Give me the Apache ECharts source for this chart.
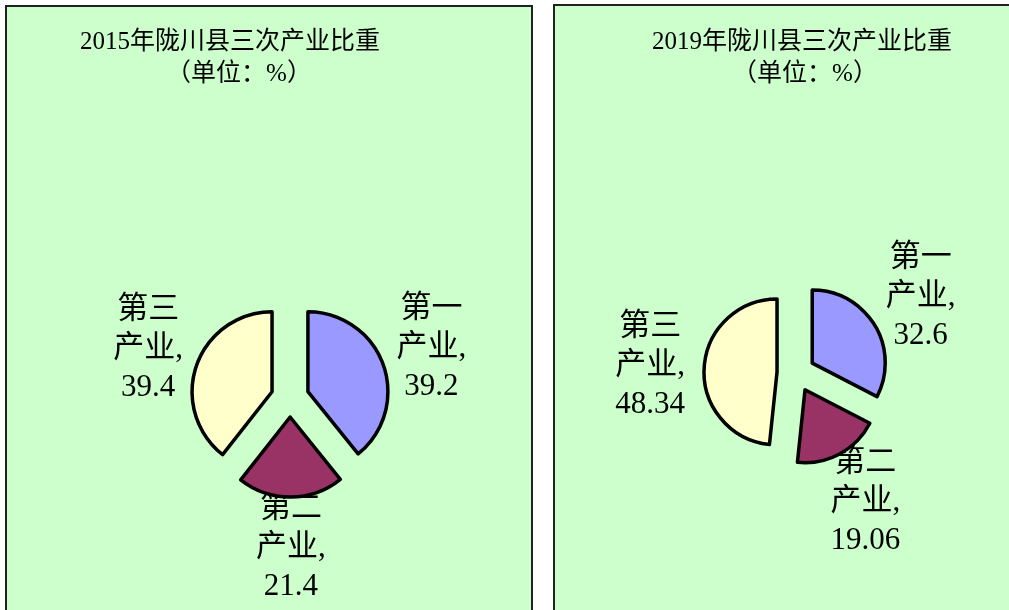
<!DOCTYPE html>
<html>
<head>
<meta charset="utf-8">
<script src="https://cdn.jsdelivr.net/npm/echarts@6/dist/echarts.min.js"></script>
<style>
  html, body { margin: 0; padding: 0; background: #fff; overflow: hidden; }
  .panel {
    position: absolute;
    background: #ccffcc;
    border: 2px solid #222;
  }
  #left { left: 5px; top: 5px; width: 524px; height: 620px; }
  #right { left: 553px; top: 4px; width: 470px; height: 620px; }
  .chart { width: 100%; height: 100%; }
</style>
</head>
<body>
<div class="panel" id="left"><div class="chart" id="chart2015"></div></div>
<div class="panel" id="right"><div class="chart" id="chart2019"></div></div>
<script>
// 三次产业比重
const industries = ['第一产业', '第二产业', '第三产业'];
const share2015 = [39.2, 21.4, 39.4];
const share2019 = [32.6, 19.06, 48.34];
const sliceColors = ['#9999ff', '#993366', '#ffffcc'];

const fontFamily = '"Liberation Serif", "Noto Sans CJK SC", serif';

function buildOption(year, values, cfg) {
  const data = industries.map((name, i) => ({
    name: name,
    value: values[i],
    selected: true,
    itemStyle: { color: sliceColors[i] }
  }));
  return {
    animation: false,
    title: [
      {
        text: year + '年陇川县三次产业比重',
        left: cfg.titleX, top: cfg.titleY,
        padding: 0,
        textAlign: 'center', textVerticalAlign: 'middle',
        textStyle: { fontFamily: fontFamily, fontSize: 25, fontWeight: 'normal', color: '#000' }
      },
      {
        text: '（单位：%）',
        left: cfg.subX, top: cfg.subY,
        padding: 0,
        textAlign: 'center', textVerticalAlign: 'middle',
        textStyle: { fontFamily: fontFamily, fontSize: 25, fontWeight: 'normal', color: '#000' }
      }
    ],
    series: [
      {
        type: 'pie',
        silent: true,
        center: cfg.center,
        radius: cfg.radius,
        startAngle: 90,
        clockwise: true,
        selectedMode: 'multiple',
        selectedOffset: 19,
        itemStyle: { borderColor: '#000', borderWidth: 3.5 },
        label: { show: false },
        labelLine: { show: false },
        data: data
      },
      {
        // 标签层
        type: 'pie',
        silent: true,
        center: cfg.center,
        radius: [0, (cfg.labelR - 3) * 2],
        startAngle: 90,
        clockwise: true,
        itemStyle: { color: 'rgba(0,0,0,0)', borderWidth: 0 },
        label: {
          show: true,
          position: 'inside',
          color: '#000',
          fontFamily: fontFamily,
          fontSize: 31,
          lineHeight: 39,
          align: 'center',
          formatter: p => p.name.slice(0, 2) + '\n' + p.name.slice(2) + ',\n' + p.value
        },
        labelLine: { show: false },
        data: industries.map((name, i) => ({ name: name, value: values[i] }))
      }
    ]
  };
}

const chartLeft = echarts.init(document.getElementById('chart2015'));
chartLeft.setOption(buildOption(2015, share2015, {
  center: [283, 391], radius: 80, labelR: 150,
  titleX: 223, titleY: 35, subX: 232, subY: 67
}));

const chartRight = echarts.init(document.getElementById('chart2019'));
chartRight.setOption(buildOption(2019, share2019, {
  center: [241, 367], radius: 73, labelR: 146,
  titleX: 247, titleY: 36, subX: 250, subY: 68
}));
</script>
</body>
</html>
